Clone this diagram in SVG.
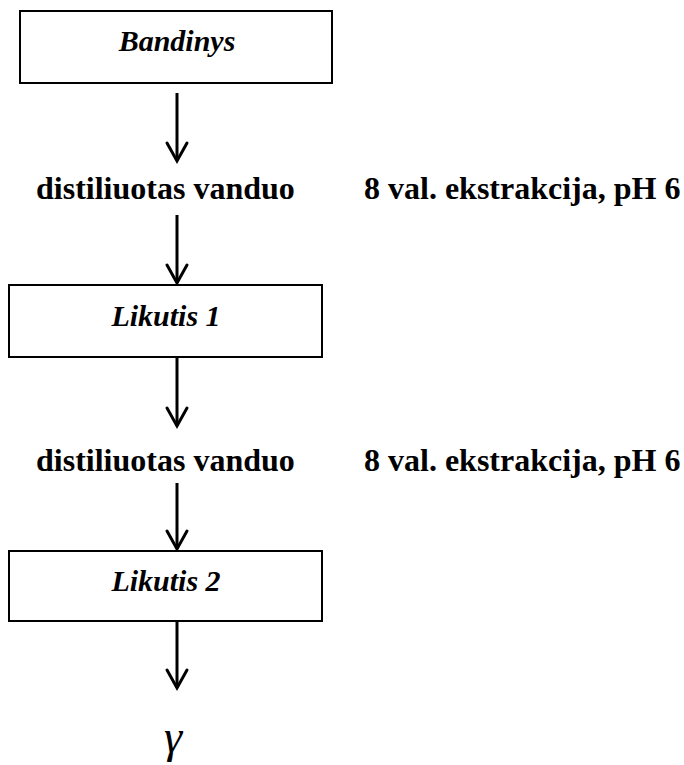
<svg xmlns="http://www.w3.org/2000/svg" width="684" height="765" viewBox="0 0 684 765">
<style>
.box{fill:#fff;stroke:#000;stroke-width:2}
.lbl{font-family:"Times New Roman","Liberation Serif","DejaVu Serif",serif;font-weight:bold;font-style:italic;font-size:30px;text-anchor:middle}
.t{font-family:"Times New Roman","Liberation Serif","DejaVu Serif",serif;font-weight:bold;font-size:32px}
.c{stroke:#000;stroke-width:3;fill:none}
.h{stroke:#000;stroke-width:3;fill:none;stroke-linecap:round}
</style>
<rect width="684" height="765" fill="#fff"/>
<g id="n1"><rect class="box" x="20" y="11" width="312" height="72"/><text class="lbl" x="177" y="51">Bandinys</text></g>
<g id="n2"><rect class="box" x="9" y="285" width="313" height="72"/><text class="lbl" x="166" y="326">Likutis 1</text></g>
<g id="n3"><rect class="box" x="9" y="551" width="313" height="70"/><text class="lbl" x="166" y="591">Likutis 2</text></g>
<g id="t1"><text class="t" x="36" y="199">distiliuotas vanduo</text><text class="t" x="364" y="199">8 val. ekstrakcija, pH 6</text></g>
<g id="t2"><text class="t" x="36" y="471">distiliuotas vanduo</text><text class="t" x="364" y="471">8 val. ekstrakcija, pH 6</text></g>
<g id="n4"><text x="173" y="752" font-family="Times New Roman,Liberation Serif,serif" font-style="italic" font-size="46" text-anchor="middle">γ</text></g>
<g id="connectors">
<line class="c" x1="177" y1="93" x2="177" y2="160"/><path class="h" d="M167 143 L177 161 L187 143"/>
<line class="c" x1="177" y1="215" x2="177" y2="283"/><path class="h" d="M167 265 L177 283 L187 265"/>
<line class="c" x1="177" y1="357" x2="177" y2="426"/><path class="h" d="M167 408 L177 426 L187 408"/>
<line class="c" x1="177" y1="483" x2="177" y2="549"/><path class="h" d="M167 531 L177 549 L187 531"/>
<line class="c" x1="177" y1="621" x2="177" y2="688"/><path class="h" d="M167 670 L177 688 L187 670"/>
</g>
</svg>
